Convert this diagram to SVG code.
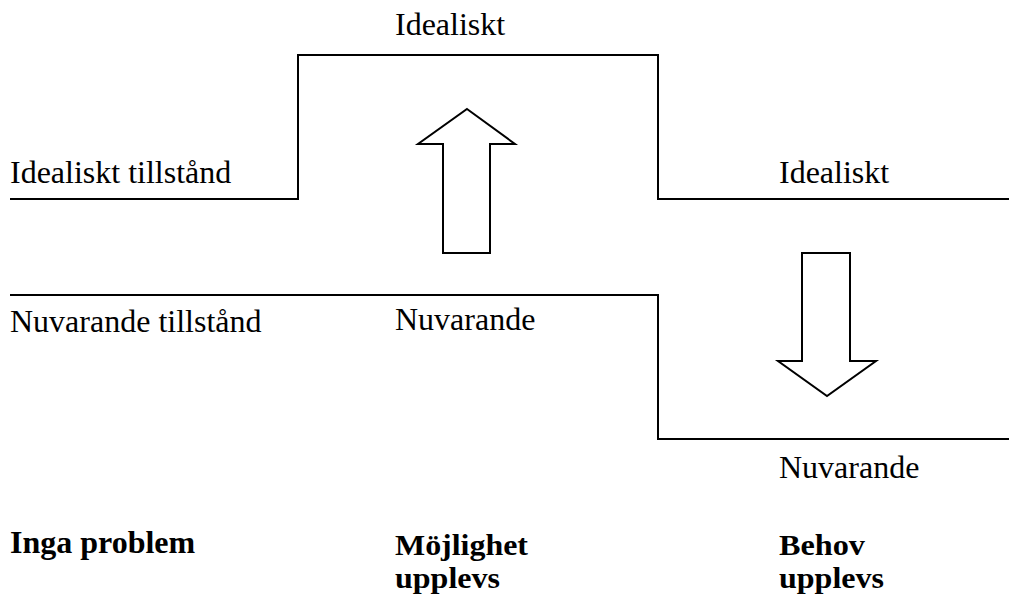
<svg xmlns="http://www.w3.org/2000/svg" width="1009" height="595" viewBox="0 0 1009 595">
<style>
.ln{fill:none;stroke:#000;stroke-width:2;stroke-linejoin:miter}
.ar{fill:#fff;stroke:#000;stroke-width:2;stroke-linejoin:miter}
.t{font-family:"Liberation Serif","Times New Roman",serif;font-size:32px;fill:#000}
.b{font-weight:bold}
.s{font-size:30px}
</style>
<rect width="1009" height="595" fill="#fff"/>
<g id="connectors">
<polyline id="ideal-line" class="ln" points="10,199 298,199 298,55 658,55 658,199 1009,199"/>
<polyline id="current-line" class="ln" points="10,295 658,295 658,439 1009,439"/>
</g>
<g id="arrow-up">
<polygon class="ar" points="467,109 515,144 490,144 490,253 443,253 443,144 418,144"/>
</g>
<g id="arrow-down">
<polygon class="ar" points="802,253 850,253 850,361 876,361 827,396 778,361 802,361"/>
</g>
<g id="labels">
<text class="t" x="395" y="35">Idealiskt</text>
<text class="t" x="10" y="183">Idealiskt tillstånd</text>
<text class="t" x="779" y="183">Idealiskt</text>
<text class="t" x="10" y="332">Nuvarande tillstånd</text>
<text class="t" x="395" y="330">Nuvarande</text>
<text class="t" x="779" y="478">Nuvarande</text>
</g>
<g id="cat-none"><text class="t b" x="10" y="553">Inga problem</text></g>
<g id="cat-opportunity"><text class="t b s" x="395" y="555" textLength="133" lengthAdjust="spacingAndGlyphs">Möjlighet</text><text class="t b s" x="395" y="588" textLength="105" lengthAdjust="spacingAndGlyphs">upplevs</text></g>
<g id="cat-need"><text class="t b s" x="779" y="555" textLength="86" lengthAdjust="spacingAndGlyphs">Behov</text><text class="t b s" x="779" y="588" textLength="105" lengthAdjust="spacingAndGlyphs">upplevs</text></g>
</svg>
